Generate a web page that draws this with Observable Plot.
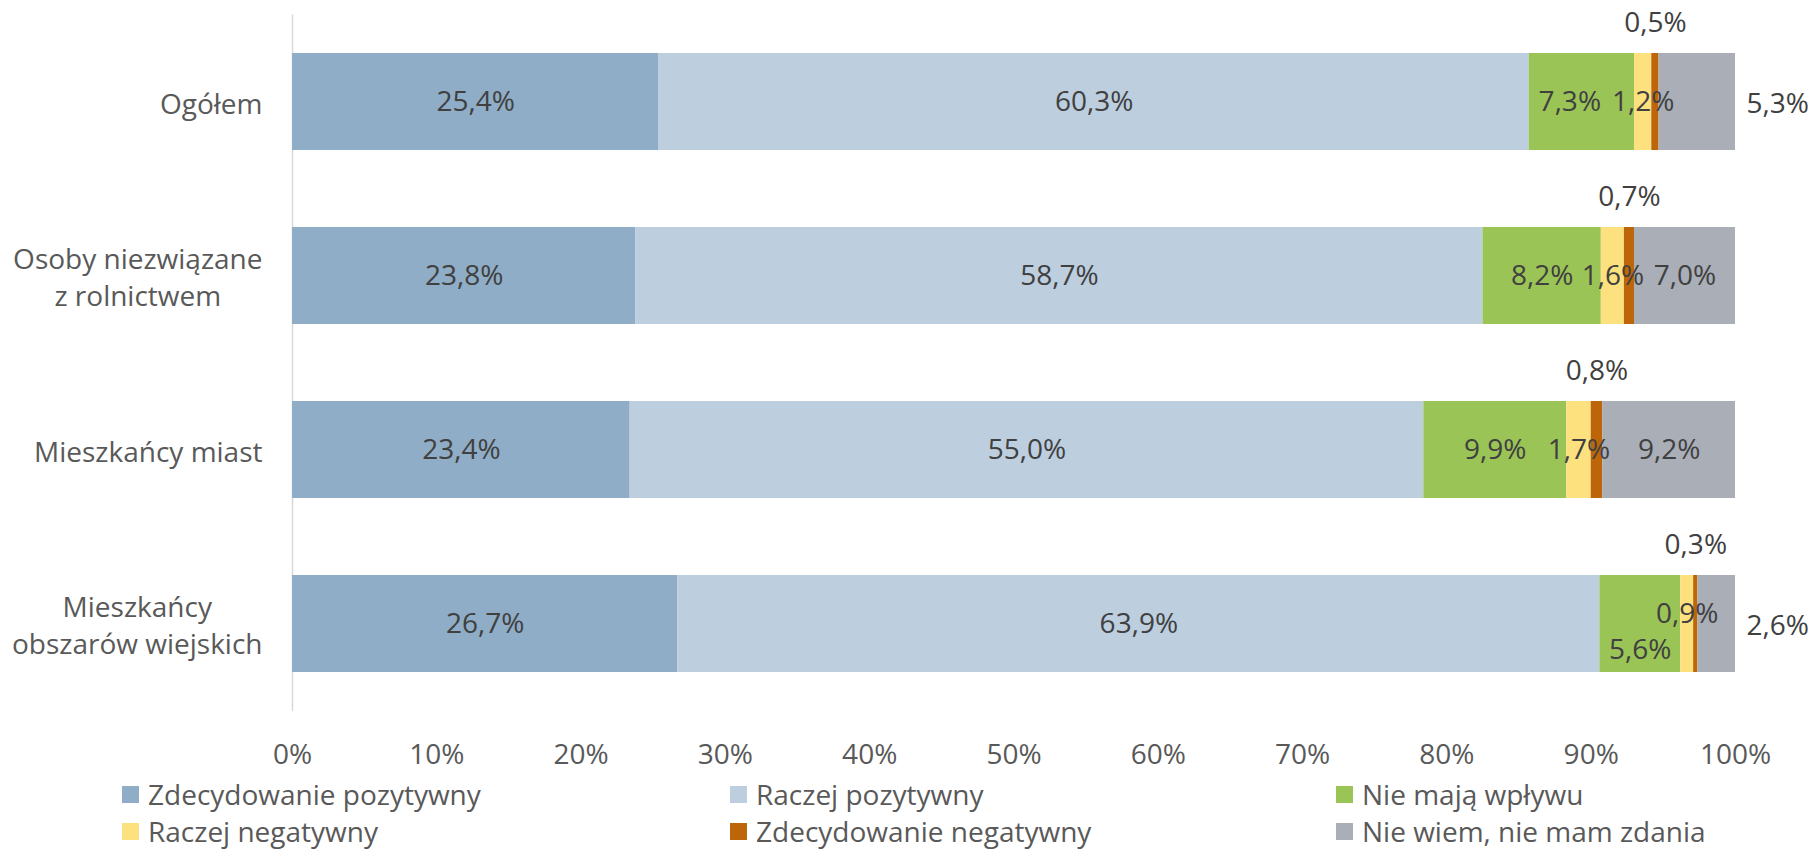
<!DOCTYPE html>
<html><head><meta charset="utf-8">
<script src="https://cdn.jsdelivr.net/npm/d3@7"></script>
<script src="https://cdn.jsdelivr.net/npm/@observablehq/plot@0.6"></script>
<style>
body{margin:0;background:#fff;font-family:"Open Sans",sans-serif;}
#wrap{position:relative;width:1810px;height:849px;overflow:hidden;background:#fff;}
#chart{position:absolute;left:0;top:0;}
.legend{position:absolute;left:0;top:780px;width:1810px;height:69px;}
.item{position:absolute;display:flex;align-items:center;font-size:28px;color:#595959;white-space:nowrap;line-height:1.1;}
.sw{width:17px;height:17px;margin-right:9px;flex:none;}
</style></head><body><div id="wrap"><div id="chart"></div><div class="legend" id="legend"></div></div>
<script>
// ---- data ----
const categories = ["Ogółem", "Osoby niezwiązane z rolnictwem", "Mieszkańcy miast", "Mieszkańcy obszarów wiejskich"];
const categoryLines = [["Ogółem"], ["Osoby niezwiązane", "z rolnictwem"], ["Mieszkańcy miast"], ["Mieszkańcy", "obszarów wiejskich"]];
const series = ["Zdecydowanie pozytywny", "Raczej pozytywny", "Nie mają wpływu", "Raczej negatywny", "Zdecydowanie negatywny", "Nie wiem, nie mam zdania"];
const zdecydowaniePozytywny = [25.4, 23.8, 23.4, 26.7];
const raczejPozytywny = [60.3, 58.7, 55.0, 63.9];
const nieMajaWplywu = [7.3, 8.2, 9.9, 5.6];
const raczejNegatywny = [1.2, 1.6, 1.7, 0.9];
const zdecydowanieNegatywny = [0.5, 0.7, 0.8, 0.3];
const nieWiem = [5.3, 7.0, 9.2, 2.6];
const xTicks = [0, 10, 20, 30, 40, 50, 60, 70, 80, 90, 100];
const colors = ["#8FADC6", "#BDCEDF", "#9BC457", "#FCE17E", "#BC6609", "#A9AEB7"];

const seriesValues = [zdecydowaniePozytywny, raczejPozytywny, nieMajaWplywu, raczejNegatywny, zdecydowanieNegatywny, nieWiem];

// long table with cumulative extents
const rows = [];
categories.forEach((cat, ci) => {
  let acc = 0;
  series.forEach((s, si) => {
    const v = seriesValues[si][ci];
    rows.push({cat, ci, series: s, si, value: v, x1: acc, x2: acc + v, mid: acc + v / 2});
    acc += v;
  });
});
const fmt = v => v.toFixed(1).replace(".", ",") + "%";

// label placement rules
function placement(r) {
  if (r.si === 4) return "above";
  if (r.si === 5 && r.value < 6) return "outside";
  if (r.ci === 3 && r.si === 2) return "low";
  if (r.ci === 3 && r.si === 3) return "high";
  if (r.ci === 0 && r.si === 2) return "left";
  return "inside";
}

const FONT = "Open Sans";
const FS = 28;
const ctx = document.createElement("canvas").getContext("2d");
ctx.font = `${FS}px "${FONT}"`;
const textW = s => ctx.measureText(s).width;

const labelColor = "#404040";
const txt = (filterKey, extra) => Plot.text(rows, {
  filter: r => placement(r) === filterKey,
  x: "mid", y: "cat", text: r => fmt(r.value),
  fill: labelColor, fontSize: FS, fontFamily: FONT, ...extra
});

const yLabelMarks = categories.map((cat, ci) => {
  const lines = categoryLines[ci];
  const w = Math.max(...lines.map(textW));
  return Plot.text([cat], {
    x: () => 0, y: d => d, text: () => lines.join("\n"),
    textAnchor: "middle", dx: -(30 + w / 2), lineHeight: 1.3,
    fill: "#595959", fontSize: FS, fontFamily: FONT
  });
});

const chart = Plot.plot({
  width: 1810,
  height: 780,
  marginLeft: 292,
  marginRight: 75,
  marginTop: 14.5,
  marginBottom: 69,
  style: {fontFamily: FONT, fontSize: FS + "px", color: "#595959", background: "white"},
  x: {domain: [0, 100], axis: null},
  y: {domain: categories, paddingInner: 0.44, paddingOuter: 0.22, axis: null},
  color: {domain: series, range: colors},
  marks: [
    Plot.ruleX([0], {stroke: "#D9D9D9", strokeWidth: 1.5}),
    Plot.barX(rows, {x1: "x1", x2: "x2", y: "cat", fill: "series"}),
    Plot.axisX({ticks: xTicks, tickFormat: d => d + "%", tickSize: 0, tickPadding: 33, label: null, fontSize: FS, fontFamily: FONT, fill: "#595959"}),
    txt("inside", {}),
    txt("left", {dx: -12}),
    txt("above", {dy: -79}),
    txt("low", {dy: 26}),
    txt("high", {dy: -10}),
    Plot.text(rows, {filter: r => placement(r) === "outside", x: () => 100, y: "cat", text: r => fmt(r.value),
      textAnchor: "start", dx: 11, dy: 2, fill: labelColor, fontSize: FS, fontFamily: FONT}),
    ...yLabelMarks
  ]
});
document.getElementById("chart").appendChild(chart);

// legend
const legendPos = [[122, 794], [730, 794], [1336, 794], [122, 831], [730, 831], [1336, 831]];
const legend = document.getElementById("legend");
series.forEach((s, i) => {
  const it = document.createElement("div");
  it.className = "item";
  it.style.left = legendPos[i][0] + "px";
  it.style.top = (legendPos[i][1] - 780 - 16) + "px";
  it.style.height = "32px";
  const sw = document.createElement("span");
  sw.className = "sw";
  sw.style.background = colors[i];
  const t = document.createElement("span");
  t.textContent = s;
  it.appendChild(sw); it.appendChild(t);
  legend.appendChild(it);
});
</script></body></html>
